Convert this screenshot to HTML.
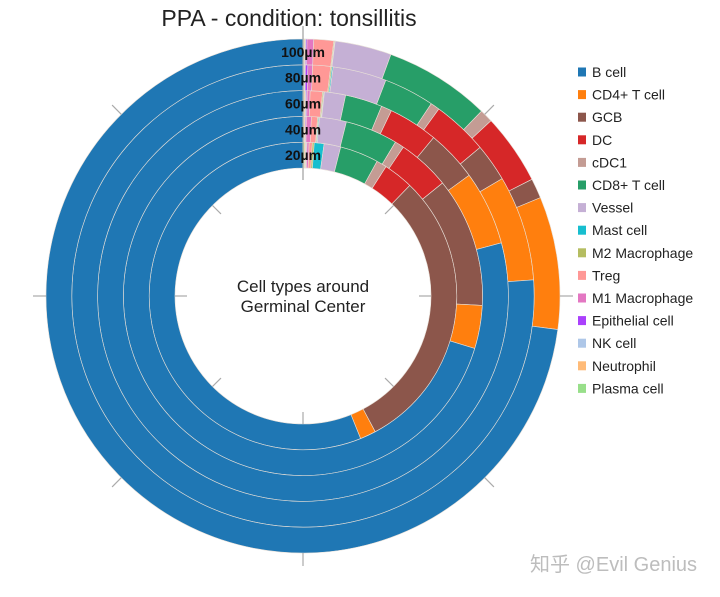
<!DOCTYPE html>
<html><head><meta charset="utf-8"><style>
body{margin:0;background:#fff;width:720px;height:592px;overflow:hidden;font-family:"Liberation Sans",Arial,sans-serif;}
</style></head><body>
<svg id="chart" width="720" height="592" xmlns="http://www.w3.org/2000/svg">
<text x="289" y="26" text-anchor="middle" font-size="23" fill="#222">PPA - condition: tonsillitis</text>
<g id="rings"></g>
<g id="ticks"></g>
<g id="labels"></g>
<text x="303" y="292" text-anchor="middle" font-size="17" fill="#222">Cell types around</text>
<text x="303" y="312" text-anchor="middle" font-size="17" fill="#222">Germinal Center</text>
<g id="legend"></g>
<text x="530" y="571" font-size="20" fill="#bdbdbd" font-family="'Liberation Sans','Noto Sans CJK SC',sans-serif">知乎 @Evil Genius</text>
</svg>
<script>
const cellTypes = ["B cell","CD4+ T cell","GCB","DC","cDC1","CD8+ T cell","Vessel","Mast cell","M2 Macrophage","Treg","M1 Macrophage","Epithelial cell","NK cell","Neutrophil","Plasma cell"];
const colors = ["#1f77b4","#ff7f0e","#8c564b","#d62728","#c49c94","#279e68","#c5b0d5","#17becf","#b5bd61","#ff9896","#e377c2","#aa40fc","#aec7e8","#ffbb78","#98df8a"];
const ringLabels = ["20µm","40µm","60µm","80µm","100µm"];
const ring20 = [202,6,108,11.3,3.9,14.6,6.3,3.7,0.7,1.2,0.8,0.3,0.3,0.4,0.5];
const ring40 = [253,14,42,17,3,17,8.7,0.3,0.3,2.0,1.6,0.3,0.2,0.3,0.3];
const ring60 = [285,21,14.5,14,3,10.5,6,0.2,0.3,3.5,0.8,0.3,0.3,0.3,0.3];
const ring80 = [274,26.5,9.5,14,2.3,12.7,13.5,0.3,0.3,4.5,1.2,0.6,0.2,0.2,0.2];
const ring100 = [262.5,30,4.5,16,3,24,12.8,0.1,0.2,4.5,1.5,0.3,0.2,0.2,0.2];
const rings = [ring20,ring40,ring60,ring80,ring100];

const NS="http://www.w3.org/2000/svg";
const cx=303, cy=296, r0=128, rw=25.8;
function pt(r,a){const t=a*Math.PI/180;return [cx+r*Math.sin(t),cy-r*Math.cos(t)];}
function angleScale(v,total){return v/total*360;}
const g=document.getElementById('rings');
rings.forEach((vals,ri)=>{
  const total=vals.reduce((a,b)=>a+b,0);
  const ri0=r0+ri*rw, ri1=ri0+rw;
  let a=0;
  for(let k=vals.length-1;k>=0;k--){
    const span=angleScale(vals[k],total);
    const a1=a+span;
    const p1=pt(ri1,a),p2=pt(ri1,a1),p3=pt(ri0,a1),p4=pt(ri0,a);
    const large=span>180?1:0;
    const path=document.createElementNS(NS,'path');
    path.setAttribute('d',`M${p1[0]},${p1[1]}A${ri1},${ri1} 0 ${large} 1 ${p2[0]},${p2[1]}L${p3[0]},${p3[1]}A${ri0},${ri0} 0 ${large} 0 ${p4[0]},${p4[1]}Z`);
    path.setAttribute('fill',colors[k]);
    path.setAttribute('stroke','#e8e0d8');
    path.setAttribute('stroke-width','0.6');
    
    
    g.appendChild(path);
    a=a1;
  }
});
const tg=document.getElementById('ticks');
for(let d=0;d<360;d+=45){
  [[116,128],[257,270]].forEach(([a,b])=>{
    const p=pt(a,d),q=pt(b,d);
    const l=document.createElementNS(NS,'line');
    l.setAttribute('x1',p[0]);l.setAttribute('y1',p[1]);l.setAttribute('x2',q[0]);l.setAttribute('y2',q[1]);
    l.setAttribute('stroke','#aaa');l.setAttribute('stroke-width','1.2');
    
    
    tg.appendChild(l);
  });
}
const lt=document.createElementNS(NS,'line');
lt.setAttribute('x1',cx);lt.setAttribute('y1',cy-270);lt.setAttribute('x2',cx);lt.setAttribute('y2',cy-116);
lt.setAttribute('stroke','#aaa');lt.setAttribute('stroke-width','1.2');


tg.appendChild(lt);
const lg=document.getElementById('labels');
ringLabels.forEach((t,i)=>{
  const tx=document.createElementNS(NS,'text');
  tx.setAttribute('x',cx);tx.setAttribute('y',cy-(r0+i*rw+rw/2)+5);
  tx.setAttribute('text-anchor','middle');tx.setAttribute('font-size','14');tx.setAttribute('font-weight','bold');tx.setAttribute('fill','#111');
  tx.textContent=t;
  
  
  lg.appendChild(tx);
});
const leg=document.getElementById('legend');
cellTypes.forEach((c,i)=>{
  const y=72+i*22.6;
  const rc=document.createElementNS(NS,'rect');
  rc.setAttribute('x',578);rc.setAttribute('y',y-4.5);rc.setAttribute('width',8);rc.setAttribute('height',9);rc.setAttribute('fill',colors[i]);
  
  
  leg.appendChild(rc);
  const tx=document.createElementNS(NS,'text');
  tx.setAttribute('x',592);tx.setAttribute('y',y+5);tx.setAttribute('font-size','14');tx.setAttribute('fill','#222');
  tx.textContent=c;
  
  
  leg.appendChild(tx);
});
</script>
</body></html>
